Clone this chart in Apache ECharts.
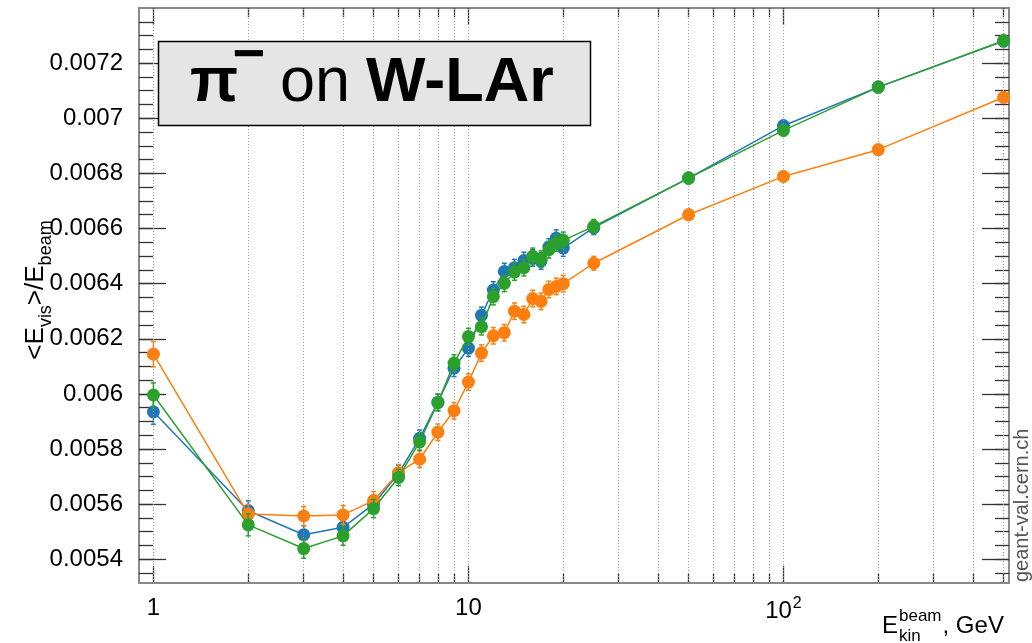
<!DOCTYPE html>
<html><head><meta charset="utf-8">
<script src="https://cdn.jsdelivr.net/npm/echarts@6/dist/echarts.min.js"></script>
<style>html,body{margin:0;padding:0;background:#fff}#c{width:1032px;height:643px}</style>
</head><body><div id="c"></div>
<script>
// ---- data ----
const energies = [1,2,3,4,5,6,7,8,9,10,11,12,13,14,15,16,17,18,19,20,25,50,100,200,500];
const blueVals   = [0.005935,0.005576,0.005489,0.005516,0.005600,0.005712,0.005839,0.005970,0.006093,0.006166,0.006285,0.006377,0.006444,0.006458,0.006484,0.006493,0.006482,0.006533,0.006565,0.006529,0.006603,0.006783,0.006973,0.007113,0.007280];
const orangeVals = [0.006144,0.005564,0.005557,0.005561,0.005613,0.005714,0.005763,0.005861,0.005939,0.006043,0.006148,0.006211,0.006222,0.006300,0.006288,0.006346,0.006336,0.006379,0.006390,0.006400,0.006474,0.006650,0.006789,0.006886,0.007076];
const greenVals  = [0.005996,0.005525,0.005439,0.005485,0.005584,0.005697,0.005826,0.005968,0.006112,0.006208,0.006244,0.006353,0.006401,0.006442,0.006458,0.006499,0.006489,0.006523,0.006547,0.006557,0.006608,0.006783,0.006956,0.007113,0.007281];
const blueErr    = [0.000045,0.000036,0.000033,0.000033,0.000032,0.000030,0.000030,0.000030,0.000030,0.000030,0.000030,0.000030,0.000030,0.000030,0.000030,0.000030,0.000030,0.000030,0.000030,0.000030,0.000025,0.000020,0.000020,0.000020,0.000020];
const orangeErr  = [0.000046,0.000035,0.000035,0.000034,0.000033,0.000030,0.000030,0.000030,0.000030,0.000030,0.000030,0.000030,0.000030,0.000030,0.000030,0.000030,0.000030,0.000030,0.000030,0.000030,0.000025,0.000020,0.000020,0.000020,0.000020];
const greenErr   = [0.000044,0.000040,0.000035,0.000034,0.000033,0.000030,0.000030,0.000030,0.000030,0.000030,0.000030,0.000030,0.000030,0.000030,0.000030,0.000030,0.000030,0.000030,0.000030,0.000030,0.000025,0.000020,0.000020,0.000020,0.000020];

const xRange = [0.9, 520];
const yRange = [0.005314, 0.0074];
const xMajorTicks = [1, 10, 100];
const xMinorTicks = [2,3,4,5,6,7,8,9,20,30,40,50,60,70,80,90,200,300,400,500];
const yMajorTicks = [0.0054,0.0056,0.0058,0.006,0.0062,0.0064,0.0066,0.0068,0.007,0.0072];
const yMinorTicks = [0.00535,0.0054,0.00545,0.0055,0.00555,0.0056,0.00565,0.0057,0.00575,0.0058,0.00585,0.0059,0.00595,0.006,0.00605,0.0061,0.00615,0.0062,0.00625,0.0063,0.00635,0.0064,0.00645,0.0065,0.00655,0.0066,0.00665,0.0067,0.00675,0.0068,0.00685,0.0069,0.00695,0.007,0.00705,0.0071,0.00715,0.0072,0.00725,0.0073,0.00735];

const colors = {blue:'#1f77b4', orange:'#ff7f0e', green:'#2ca02c'};
const FONT = "'Liberation Sans', Arial, Helvetica, sans-serif";

// ---- helpers ----
const mctx = document.createElement('canvas').getContext('2d');
function textWidth(t, size, weight){ mctx.font = (weight||'normal') + ' ' + size + 'px ' + FONT; return mctx.measureText(t).width; }
function txt(x, baseline, t, size, weight, fill, align){
  return {type:'text', x:x, y: baseline - 0.3465*size, silent:true,
    style:{text:t, fontSize:size, fontWeight:weight||'normal', fontFamily:FONT, fill:fill||'#000', align:align||'left', verticalAlign:'middle'}};
}

const chart = echarts.init(document.getElementById('c'), null, {renderer:'canvas'});

function xAx(pos, ticks, len, labels){
  return {type:'log', logBase:10, min:xRange[0], max:xRange[1], position:pos,
    axisLine:{show:false}, splitLine:{show:false},
    axisTick:{show:true, inside:true, length:len, customValues:ticks, lineStyle:{color:'#333', width:1.3}},
    axisLabel: labels ? {show:true, customValues:xMajorTicks, margin:13, fontSize:24, fontFamily:FONT, color:'#000',
      formatter: v => { const e = Math.round(Math.log10(v)); return e >= 2 ? '10{sup|' + e + '}' : String(Math.round(v)); },
      rich:{sup:{fontSize:16, fontFamily:FONT, color:'#000', verticalAlign:'top', padding:[0,0,14,1]}}} : {show:false}};
}
function yAx(pos, ticks, len, labels){
  return {type:'value', min:yRange[0], max:yRange[1], position:pos,
    axisLine:{show:false}, splitLine:{show:false},
    axisTick:{show:true, inside:true, length:len, customValues:ticks, lineStyle:{color:'#333', width:1.3}},
    axisLabel: labels ? {show:true, customValues:yMajorTicks, margin:16, fontSize:24, fontFamily:FONT, color:'#000',
      formatter: v => String(parseFloat(v.toPrecision(6)))} : {show:false}};
}

function lineSeries(name, vals, color, z){
  return {name:name, type:'line', xAxisIndex:0, yAxisIndex:0, z:z,
    data: energies.map((e,i)=>[e, vals[i]]),
    symbol:'circle', symbolSize:13, showSymbol:true,
    itemStyle:{color:color}, lineStyle:{color:color, width:1.5}, emphasis:{disabled:true}};
}
function errSeries(vals, errs, color, z){
  return {type:'custom', xAxisIndex:0, yAxisIndex:0, z:z, silent:true,
    data: energies.map((e,i)=>[e, vals[i]-errs[i], vals[i]+errs[i]]),
    encode:{x:0, y:[1,2]},
    renderItem:function(params, api){
      const x = api.value(0);
      const lo = api.coord([x, api.value(1)]);
      const hi = api.coord([x, api.value(2)]);
      const st = {stroke:color, lineWidth:1.5};
      return {type:'group', children:[
        {type:'line', shape:{x1:lo[0], y1:lo[1], x2:hi[0], y2:hi[1]}, style:st},
        {type:'line', shape:{x1:lo[0]-2.5, y1:lo[1], x2:lo[0]+2.5, y2:lo[1]}, style:st},
        {type:'line', shape:{x1:hi[0]-2.5, y1:hi[1], x2:hi[0]+2.5, y2:hi[1]}, style:st}
      ]};
    }};
}

const gridLineData = xMajorTicks.concat(xMinorTicks).map(v=>({xAxis:v}))
  .concat(yMajorTicks.map(v=>({yAxis:v})));

// ---- text pieces ----
const graphics = [];
graphics.push({type:'rect', shape:{x:158.5, y:41.5, width:432, height:84}, style:{fill:'#e5e5e5', stroke:'#000', lineWidth:1.5}, z:100});
[ txt(190, 105, 'π', 63, 'bold'),
  txt(249, 76, '−', 56, 'bold', '#000', 'center'),
  txt(280, 105, 'on', 63, 'normal'),
  txt(366, 105, 'W-LAr', 63, 'bold')
].forEach(t=>{ t.z = 101; graphics.push(t); });

(function(){
  const segs = [['<E',26,0],['vis',18,7],['>/E',26,0],['beam',18,7]];
  let total = 0; segs.forEach(s=>{ total += textWidth(s[0], s[1]); });
  let cx = -total/2; const children = [];
  segs.forEach(s=>{ children.push(txt(cx, s[2], s[0], s[1])); cx += textWidth(s[0], s[1]); });
  graphics.push({type:'group', x:45, y:290, rotation:Math.PI/2, children:children, z:100});
})();

(function(){
  const x0 = 882;
  const wE = textWidth('E', 24);
  const xs = x0 + wE + 1;
  const wS = Math.max(textWidth('beam', 17), textWidth('kin', 17));
  graphics.push(txt(x0, 635, 'E', 24));
  graphics.push(txt(xs, 622, 'beam', 17));
  graphics.push(txt(xs, 642, 'kin', 17));
  graphics.push(txt(xs + wS + 1, 635, ', GeV', 24));
})();

graphics.push({type:'group', x:1029, y:582, rotation:Math.PI/2, children:[txt(0, 0, 'geant-val.cern.ch', 20, 'normal', '#555')]});

const option = {
  animation:false,
  backgroundColor:'#fff',
  grid:{left:139, right:23, top:8, bottom:60, show:true, borderColor:'#8a8a8a', borderWidth:2, backgroundColor:'transparent'},
  xAxis:[ xAx('bottom', xMajorTicks, 17, true), xAx('bottom', xMinorTicks, 9, false),
          xAx('top', xMajorTicks, 17, false), xAx('top', xMinorTicks, 9, false) ],
  yAxis:[ yAx('left', yMajorTicks, 27, true), yAx('left', yMinorTicks, 14, false),
          yAx('right', yMajorTicks, 27, false), yAx('right', yMinorTicks, 14, false) ],
  series:[
    {type:'line', xAxisIndex:0, yAxisIndex:0, data:[], z:1, silent:true,
      markLine:{silent:true, symbol:['none','none'], label:{show:false}, animation:false,
        lineStyle:{color:'#9a9a9a', width:1, type:[1,2]}, emphasis:{disabled:true}, data:gridLineData}},
    errSeries(blueVals, blueErr, colors.blue, 3),
    lineSeries('blue', blueVals, colors.blue, 3),
    errSeries(orangeVals, orangeErr, colors.orange, 4),
    lineSeries('orange', orangeVals, colors.orange, 4),
    errSeries(greenVals, greenErr, colors.green, 5),
    lineSeries('green', greenVals, colors.green, 5)
  ],
  graphic: graphics
};
chart.setOption(option);
</script>
</body></html>
